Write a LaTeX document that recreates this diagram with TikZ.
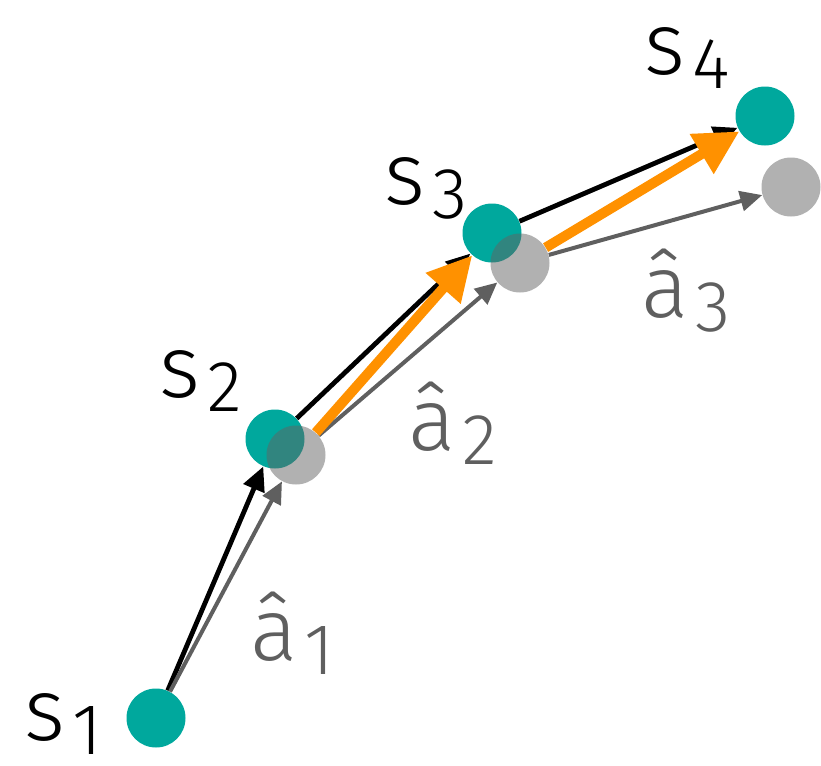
\documentclass[tikz,border=0pt]{standalone}
\usepackage{fontspec}
\setmainfont{Fira Sans}[UprightFont=* Light]
\usetikzlibrary{arrows.meta}
\definecolor{stateteal}{RGB}{0,168,157}
\definecolor{predgray}{RGB}{99,99,99}
\definecolor{actgray}{RGB}{95,95,95}
\definecolor{planorange}{RGB}{255,145,0}
\newcommand{\idx}[1]{\kern0.08em\raisebox{-0.17em}{\scalebox{0.82}{#1}}}

\begin{document}
\begin{tikzpicture}[x=0.5pt, y=-0.5pt,
  state/.style={circle, fill=stateteal, minimum size=29.5pt, inner sep=0pt},
  pred/.style={circle, fill=predgray, fill opacity=0.5, minimum size=29.5pt, inner sep=0pt},
  lbl/.style={anchor=base west, inner sep=0pt, font=\fontsize{44}{52}\selectfont},
  true/.style={-{Triangle[length=12pt,width=11pt]}, line width=2.4pt, black},
  model/.style={-{Triangle[length=11pt,width=10pt]}, line width=2pt, actgray},
  plan/.style={-{Triangle[length=22pt,width=22pt]}, line width=5pt, planorange}]
  \useasboundingbox (0,0) rectangle (821,766);
  % states
  \node[state] (s1) at (156,718) {};
  \node[state] (s2) at (275,439) {};
  \node[state] (s3) at (492,233) {};
  \node[state] (s4) at (765,116) {};
  % predicted states
  \node[pred] (p2) at (296,455) {};
  \node[pred] (p3) at (520,263) {};
  \node[pred] (p4) at (791,187) {};
  % labels
  \node[lbl] (ls1) at (24,740) {s\idx{1}};
  \node[lbl] (ls2) at (159,397) {s\idx{2}};
  \node[lbl] (ls3) at (384,204) {s\idx{3}};
  \node[lbl] (ls4) at (644,74) {s\idx{4}};
  \node[lbl, actgray] (la1) at (250,660) {â\idx{1}};
  \node[lbl, actgray] (la2) at (408,450) {â\idx{2}};
  \node[lbl, actgray] (la3) at (641,317) {â\idx{3}};
  % transitions
  \draw[true] (s1) -- (s2);
  \draw[model] (s1) -- (p2);
  \draw[true] (s2) -- (s3);
  \draw[model] (p2) -- (p3);
  \draw[plan] (p2) -- (s3);
  \draw[true] (s3) -- (s4);
  \draw[model] (p3) -- (p4);
  \draw[plan] (p3) -- (s4);
\end{tikzpicture}
\end{document}
